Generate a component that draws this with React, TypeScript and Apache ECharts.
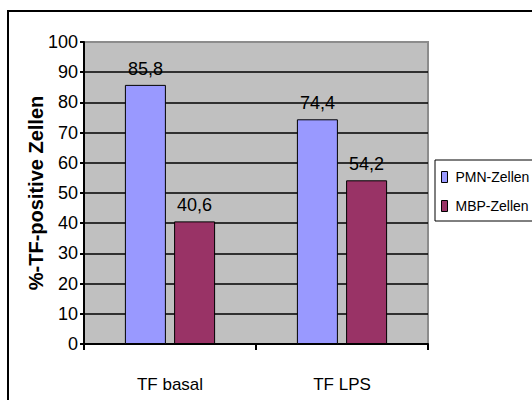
import React, { useEffect, useRef } from "react";
import * as echarts from "echarts";

const categories = ["TF basal", "TF LPS"];
const seriesNames = ["PMN-Zellen", "MBP-Zellen"];
const pmnValues = [85.8, 74.4];
const mbpValues = [40.6, 54.2];
const yTicks = { min: 0, max: 100, interval: 10 };

const FONT = "'Liberation Sans', Arial, sans-serif";

export default function App() {
  const ref = useRef<HTMLDivElement>(null);
  useEffect(() => {
    if (!ref.current) return;
    const chart = echarts.init(ref.current, null, { renderer: "svg" });
    const labelFmt = (p: any) => String(p.value).replace(".", ",");
    const splitColors = Array.from({ length: 10 }, () => "#000").concat(["#8c8c8c"]);
    chart.setOption({
      animation: false,
      backgroundColor: "#ffffff",
      textStyle: { fontFamily: FONT, color: "#000" },
      graphic: [
        {
          type: "rect",
          shape: { x: 8, y: 11, width: 700, height: 600 },
          style: { fill: "none", stroke: "#000", lineWidth: 2 },
          z: -1,
        },
      ],
      grid: {
        left: 84,
        top: 42,
        width: 344,
        height: 302,
        show: true,
        backgroundColor: "#C0C0C0",
        borderColor: "#8c8c8c",
        borderWidth: 2,
      },
      legend: {
        orient: "vertical",
        left: 435,
        top: 160,
        data: seriesNames,
        borderColor: "#000",
        borderWidth: 1,
        padding: [10, 30, 8, 6],
        itemGap: 15,
        itemWidth: 6,
        itemHeight: 11,
        icon: "rect",
        itemStyle: { borderColor: "#000", borderWidth: 1 },
        textStyle: { fontFamily: FONT, fontSize: 14, color: "#000", padding: [0, 0, 0, 3] },
      },
      xAxis: {
        type: "category",
        data: categories,
        axisLine: { lineStyle: { color: "#000", width: 2 } },
        axisTick: { show: true, length: 6, lineStyle: { color: "#000", width: 2 } },
        axisLabel: { margin: 32, fontSize: 17, color: "#000", fontFamily: FONT },
      },
      yAxis: {
        type: "value",
        min: yTicks.min,
        max: yTicks.max,
        interval: yTicks.interval,
        name: "%-TF-positive Zellen",
        nameLocation: "middle",
        nameRotate: 90,
        nameGap: 38,
        nameMoveOverlap: false,
        nameTextStyle: {
          fontFamily: FONT,
          fontWeight: "bold",
          fontSize: 20,
          color: "#000",
        },
        axisLine: { show: true, lineStyle: { color: "#000", width: 2 } },
        axisTick: { show: true, length: 4, lineStyle: { color: "#000", width: 2 } },
        axisLabel: { margin: 6, fontSize: 18, color: "#000", fontFamily: FONT },
        splitLine: { show: true, lineStyle: { color: splitColors, width: 1.6 } },
      },
      series: [
        {
          name: seriesNames[0],
          type: "bar",
          data: pmnValues,
          barWidth: 41,
          barGap: "20%",
          itemStyle: { color: "#9999FF", borderColor: "#000", borderWidth: 1 },
          label: { show: true, position: "top", distance: 7, formatter: labelFmt, fontSize: 18, color: "#000", fontFamily: FONT },
        },
        {
          name: seriesNames[1],
          type: "bar",
          data: mbpValues,
          barWidth: 41,
          barGap: "20%",
          itemStyle: { color: "#993366", borderColor: "#000", borderWidth: 1 },
          label: { show: true, position: "top", distance: 7, formatter: labelFmt, fontSize: 18, color: "#000", fontFamily: FONT },
        },
      ],
    });
    return () => chart.dispose();
  }, []);
  return (
    <div
      ref={ref}
      style={{ position: "fixed", left: 0, top: 0, width: 532, height: 400 }}
    />
  );
}
